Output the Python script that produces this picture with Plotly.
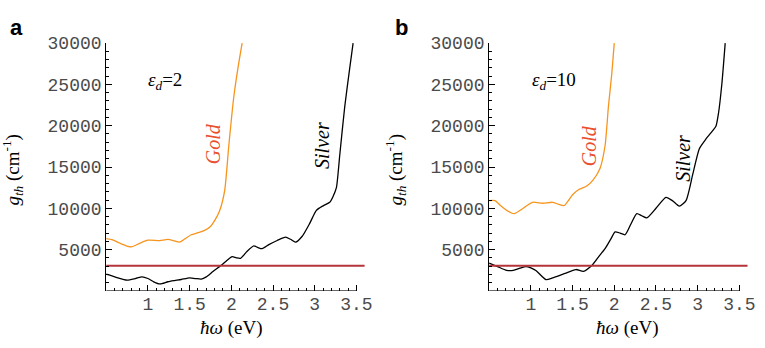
import plotly.graph_objects as go

# ---------------- data ----------------
# Panel a (eps_d = 2)
gold_a_x = [0.50, 0.57, 0.66, 0.76, 0.81, 0.90, 1.00, 1.14, 1.24, 1.32, 1.38, 1.45, 1.52, 1.60, 1.68, 1.75, 1.80, 1.86, 1.92, 1.97, 2.03, 2.08, 2.13]
gold_a_y = [6330, 6200, 5800, 5400, 5350, 5750, 6140, 6100, 6230, 6050, 5910, 6350, 6800, 7050, 7320, 7800, 8500, 9700, 12100, 17600, 23500, 27000, 30000]
silver_a_x = [0.50, 0.62, 0.75, 0.85, 0.93, 1.00, 1.07, 1.145, 1.24, 1.32, 1.40, 1.50, 1.57, 1.64, 1.70, 1.78, 1.875, 1.95, 2.01, 2.06, 2.11, 2.19, 2.27, 2.32, 2.37, 2.45, 2.55, 2.65, 2.71, 2.77, 2.85, 2.94, 3.02, 3.10, 3.18, 3.22, 3.26, 3.30, 3.36, 3.42, 3.46]
silver_a_y = [2020, 1650, 1310, 1500, 1700, 1500, 1100, 840, 1110, 1250, 1380, 1580, 1500, 1430, 1700, 2350, 3080, 3700, 4140, 4000, 3940, 4800, 5440, 5250, 5120, 5600, 6100, 6500, 6250, 5910, 6620, 8180, 9750, 10300, 10730, 11440, 12500, 16430, 22330, 27000, 30000]

# Panel b (eps_d = 10)
gold_b_x = [0.50, 0.57, 0.64, 0.71, 0.80, 0.90, 1.02, 1.14, 1.26, 1.33, 1.40, 1.50, 1.58, 1.67, 1.75, 1.83, 1.89, 1.93, 1.97, 2.00]
gold_b_y = [10930, 10930, 10300, 9750, 9360, 9950, 10730, 10610, 10730, 10500, 10340, 11640, 12300, 12700, 13480, 14860, 17600, 22330, 26260, 30000]
silver_b_x = [0.50, 0.60, 0.71, 0.79, 0.87, 0.94, 1.00, 1.06, 1.18, 1.26, 1.40, 1.54, 1.63, 1.73, 1.81, 1.89, 1.96, 2.01, 2.07, 2.13, 2.20, 2.27, 2.33, 2.39, 2.50, 2.62, 2.70, 2.78, 2.86, 2.94, 3.02, 3.10, 3.18, 3.22, 3.25, 3.29, 3.33]
silver_b_y = [3380, 2950, 2480, 2480, 2750, 2950, 2800, 2480, 1380, 1570, 2080, 2590, 2360, 3070, 4100, 5110, 6300, 7150, 7000, 6800, 8100, 9360, 9100, 8840, 10000, 11320, 10900, 10260, 10930, 14070, 17220, 18400, 19400, 19970, 21540, 25080, 30000]

threshold = 3050
x_tick_vals = [1, 1.5, 2, 2.5, 3, 3.5]
x_tick_text = ["1", "1.5", "2", "2.5", "3", "3.5"]
y_tick_vals = [5000, 10000, 15000, 20000, 25000, 30000]
y_tick_text = ["5000", "10000", "15000", "20000", "25000", "30000"]
eps_labels = ["2", "10"]

W, H = 765, 348
ORANGE = "#f7941d"
GOLD_TXT = "#e8502e"
RED = "#b5343a"

fig = go.Figure()

panels = [
    (gold_a_x, gold_a_y, silver_a_x, silver_a_y, "x", "y"),
    (gold_b_x, gold_b_y, silver_b_x, silver_b_y, "x2", "y2"),
]
for gx, gy, sx, sy, xa, ya in panels:
    fig.add_trace(go.Scatter(x=gx, y=gy, mode="lines", xaxis=xa, yaxis=ya,
                             line=dict(color=ORANGE, width=1.3, shape="spline", smoothing=0.6),
                             showlegend=False, hoverinfo="skip"))
    fig.add_trace(go.Scatter(x=sx, y=sy, mode="lines", xaxis=xa, yaxis=ya,
                             line=dict(color="black", width=1.3, shape="spline", smoothing=0.6),
                             showlegend=False, hoverinfo="skip"))
    fig.add_trace(go.Scatter(x=[0.5, 3.6], y=[threshold, threshold], mode="lines", xaxis=xa, yaxis=ya,
                             line=dict(color=RED, width=2),
                             showlegend=False, hoverinfo="skip"))

# pixel geometry
ax_left = [107.3, 494.3]
px_per_ev = 84.3
y_top, y_bot = 35, 289.4

minor_x = [round(0.5 + 0.1 * i, 2) for i in range(1, 30) if round((0.5 + 0.1 * i) * 10) % 5 != 0]
minor_y = [k * 1000 for k in range(1, 30) if k % 5 != 0]

MONO = "'Liberation Mono', 'Courier New', monospace"
SERIF = "'Liberation Serif', 'Times New Roman', serif"
SANS = "'Liberation Sans', Arial, sans-serif"

tickfont = dict(family=MONO, size=18, color="#4a4a4a")
layout_axes = {}
for i, name in enumerate(["xaxis", "xaxis2"]):
    l = ax_left[i]
    r = l + px_per_ev * 3.1
    layout_axes[name] = dict(
        domain=[l / W, r / W], range=[0.5, 3.6], anchor="y" if i == 0 else "y2",
        showline=False, showgrid=False, zeroline=False,
        tickmode="array", tickvals=x_tick_vals, ticktext=x_tick_text,
        ticks="inside", ticklen=6, tickwidth=1, tickcolor="black",
        minor=dict(tickmode="array", tickvals=minor_x, ticks="inside", ticklen=3, tickwidth=1, tickcolor="black"),
        tickfont=tickfont, fixedrange=True,
    )
for i, name in enumerate(["yaxis", "yaxis2"]):
    layout_axes[name] = dict(
        domain=[(H - y_bot) / H, (H - y_top) / H], range=[0, 30000], anchor="x" if i == 0 else "x2",
        showline=True, linecolor="black", linewidth=1, mirror=False,
        showgrid=False, zeroline=False,
        tickmode="array", tickvals=y_tick_vals, ticktext=y_tick_text,
        ticks="inside", ticklen=6, tickwidth=1, tickcolor="black",
        minor=dict(tickmode="array", tickvals=minor_y, ticks="inside", ticklen=3, tickwidth=1, tickcolor="black"),
        tickfont=tickfont, fixedrange=True,
    )

shapes = []
for xr, yr in [("x", "y"), ("x2", "y2")]:
    shapes.append(dict(type="line", xref=xr, yref=yr, x0=0.5, x1=3.5, y0=0, y1=0,
                       line=dict(color="black", width=1)))

ann = []
# panel letters
ann.append(dict(x=8 / W, y=1 - 4 / H, xref="paper", yref="paper", xanchor="left", yanchor="top",
                text="<b>a</b>", showarrow=False, font=dict(family=SANS, size=22, color="black")))
ann.append(dict(x=397 / W, y=1 - 4 / H, xref="paper", yref="paper", xanchor="left", yanchor="top",
                text="<b>b</b>", showarrow=False, font=dict(family=SANS, size=22, color="black")))
for i, off in enumerate([0, 387]):
    # y title
    ann.append(dict(x=(13 + off) / W, y=1 - 165 / H, xref="paper", yref="paper", xanchor="center", yanchor="middle",
                    text="<i>g</i><sub><i>th</i></sub> (cm<sup>-1</sup>)", textangle=-90, showarrow=False,
                    font=dict(family=SERIF, size=19, color="black")))
    # x title
    ann.append(dict(x=(233 + off * 1.035) / W, y=1 - 327 / H, xref="paper", yref="paper", xanchor="center", yanchor="middle",
                    text="<i>ħω</i> (eV)", showarrow=False, font=dict(family=SERIF, size=19, color="black")))

# epsilon labels
ann.append(dict(x=167 / W, y=1 - 74 / H, xref="paper", yref="paper", xanchor="center", yanchor="middle",
                text="<i>ε<sub>d</sub></i>=" + eps_labels[0], showarrow=False, font=dict(family=SERIF, size=19, color="black")))
ann.append(dict(x=560 / W, y=1 - 74 / H, xref="paper", yref="paper", xanchor="center", yanchor="middle",
                text="<i>ε<sub>d</sub></i>=" + eps_labels[1], showarrow=False, font=dict(family=SERIF, size=19, color="black")))
# material labels
for (x, y, t, c) in [(216, 138, "Gold", GOLD_TXT), (326, 140, "Silver", "black"),
                     (596, 140, "Gold", GOLD_TXT), (690, 153, "Silver", "black")]:
    ann.append(dict(x=x / W, y=1 - y / H, xref="paper", yref="paper", xanchor="center", yanchor="middle",
                    text="<i>" + t + "</i>", textangle=-90, showarrow=False,
                    font=dict(family=SERIF, size=20, color=c)))

fig.update_layout(width=W, height=H, margin=dict(l=0, r=0, t=0, b=0),
                  paper_bgcolor="white", plot_bgcolor="white",
                  shapes=shapes, annotations=ann, **layout_axes)

fig.write_html("out.html")
